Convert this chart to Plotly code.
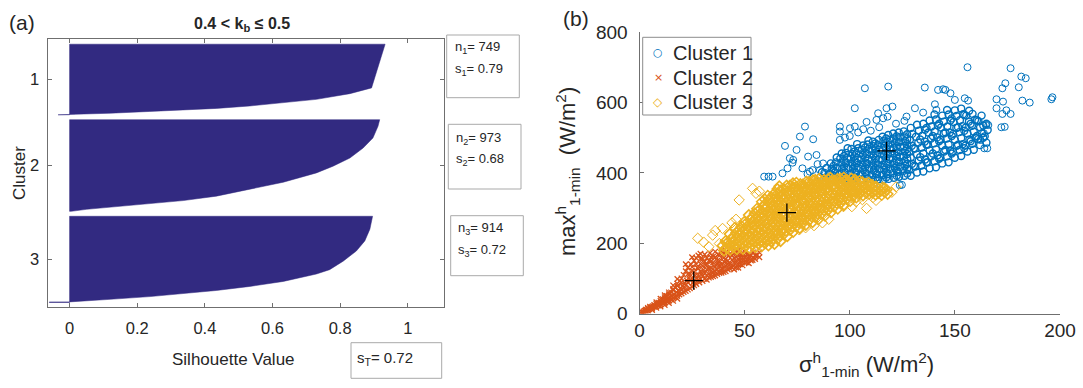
import plotly.graph_objects as go

W, H = 1083, 388

# ---------------- panel (a): silhouette profiles ----------------
cluster_sizes = [749, 973, 914]
cluster_means = [0.79, 0.68, 0.72]
overall_mean = 0.72
gap = 52  # blank rows between clusters

# rank inside each cluster (sorted by silhouette value) and the value at that rank
sil_rank_1 = [1, 464, 525, 586, 624, 656, 682, 694, 714, 733, 744, 746, 749]
sil_val_1 = [0.933, 0.893, 0.829, 0.73, 0.63, 0.533, 0.434, 0.336, 0.237, 0.12, 0.02, -0.034, -0.034]

sil_rank_2 = [1, 71, 195, 301, 407, 494, 565, 664, 742, 812, 859, 890, 925, 952, 973]
sil_val_2 = [0.917, 0.912, 0.897, 0.868, 0.829, 0.779, 0.73, 0.632, 0.533, 0.434, 0.336, 0.238, 0.13, 0.05, 0.005]

sil_rank_3 = [1, 137, 262, 369, 477, 567, 613, 692, 745, 788, 821, 853, 882, 903, 909, 910, 914]
sil_val_3 = [0.896, 0.888, 0.873, 0.848, 0.809, 0.769, 0.73, 0.632, 0.533, 0.434, 0.336, 0.238, 0.12, 0.03, 0.0, -0.06, -0.06]

x_ticks_a = [0, 0.2, 0.4, 0.6, 0.8, 1]
x_ticktext_a = ["0", "0.2", "0.4", "0.6", "0.8", "1"]
cluster_labels = ["1", "2", "3"]

# ---------------- panel (b): scatter of the three clusters ----------------
legend_names = ["Cluster 1", "Cluster 2", "Cluster 3"]

c1_core_pts = [
    (86, 388), (86.8, 402),
    (88.5, 386), (88, 400), (89, 414),
    (91, 385), (90.6, 398), (91.4, 412), (91, 427),
    (92.3, 392), (92.3, 406), (92.3, 420),
    (93.5, 387), (93, 401), (94, 415), (93.4, 430), (93.8, 444),
    (96, 384), (95.6, 398), (96.4, 412), (96, 427), (95.5, 441), (96.2, 455),
    (97.3, 391), (97.3, 405), (97.3, 419), (97.3, 434), (97.3, 448),
    (98.5, 386), (98, 400), (99, 414), (98.4, 429), (98.8, 443), (98.2, 457), (99, 470),
    (101, 383), (100.6, 397), (101.4, 411), (101, 426), (100.5, 440), (101.2, 454), (100.8, 468),
    (102.3, 390), (102.3, 404), (102.3, 419), (102.3, 433), (102.3, 447), (102.3, 461),
    (103.5, 386), (103, 400), (104, 414), (103.4, 428), (103.8, 442), (103.2, 456), (104, 470), (103.5, 482),
    (106, 381), (105.6, 395), (106.4, 409), (106, 423), (105.5, 437), (106.2, 451), (105.8, 465), (106.4, 478),
    (107.3, 388), (107.3, 402), (107.3, 416), (107.3, 430), (107.3, 444), (107.3, 458), (107.3, 472),
    (108.5, 384), (108, 398), (109, 412), (108.4, 426), (108.8, 440), (108.2, 454), (109, 468), (108.5, 481), (108.9, 492),
    (111, 379), (110.6, 393), (111.4, 407), (111, 421), (110.5, 435), (111.2, 449), (110.8, 463), (111.4, 476), (111, 489),
    (112.3, 386), (112.3, 400), (112.3, 414), (112.3, 428), (112.3, 442), (112.3, 456), (112.3, 470), (112.3, 484),
    (113.5, 382), (113, 396), (114, 410), (113.4, 424), (113.8, 438), (113.2, 452), (114, 466), (113.5, 479), (113.8, 494),
    (116, 380), (115.6, 394), (116.4, 408), (116, 422), (115.5, 436), (116.2, 450), (115.8, 464), (116.4, 477), (116, 490), (115.6, 503),
    (117.3, 387), (117.3, 401), (117.3, 415), (117.3, 429), (117.3, 443), (117.3, 457), (117.3, 471), (117.3, 485), (117.3, 498),
    (118.5, 383), (118, 397), (119, 411), (118.4, 425), (118.8, 439), (118.2, 453), (119, 467), (118.5, 480), (118.9, 494), (118.3, 508),
    (121, 386), (120.6, 400), (121.4, 414), (121, 428), (120.5, 442), (121.2, 456), (120.8, 470), (121.4, 484), (121, 498), (120.7, 512),
    (122.3, 392), (122.3, 406), (122.3, 420), (122.3, 434), (122.3, 448), (122.3, 462), (122.3, 476), (122.3, 490), (122.3, 504),
    (123.5, 389), (123, 403), (124, 417), (123.4, 431), (123.8, 445), (123.2, 459), (124, 473), (123.5, 487), (123.8, 501), (123.3, 515),
    (126, 392), (125.6, 406), (126.4, 420), (126, 434), (125.5, 448), (126.2, 462), (125.8, 476), (126.4, 490), (126, 504), (125.7, 518),
    (127.3, 398), (127.3, 412), (127.3, 426), (127.3, 440), (127.3, 454), (127.3, 468), (127.3, 482), (127.3, 496), (127.3, 510),
    # upper band
    (129, 392), (128.2, 409), (129.6, 426), (129, 443), (128.3, 460), (129.5, 477), (128.6, 494), (129.7, 511), (129, 528),
    (132, 401), (131.2, 418), (132.8, 435), (132, 452), (131.1, 469), (132.6, 486), (131.5, 503), (132.9, 520), (132, 537),
    (135, 404), (134.1, 421), (135.9, 438), (135, 455), (134.2, 472), (135.7, 489), (134.5, 506), (135.8, 523), (135, 540),
    (138, 413), (137.1, 430), (138.8, 447), (138, 464), (137.2, 481), (138.7, 498), (137.4, 515), (138.9, 532), (138, 549),
    (141, 416), (140.2, 433), (141.8, 450), (141, 467), (140.1, 484), (141.6, 501), (140.4, 518), (141.9, 535), (141, 552), (140.3, 566),
    (144, 427), (143.1, 444), (144.9, 461), (144, 478), (143.2, 495), (144.7, 512), (143.4, 529), (144.8, 546), (144, 563),
    (147, 430), (146.2, 447), (147.8, 464), (147, 481), (146.1, 498), (147.6, 515), (146.4, 532), (147.9, 549), (147, 566), (146.3, 579),
    (150, 443), (149.1, 460), (150.9, 477), (150, 494), (149.2, 511), (150.7, 528), (149.4, 545), (150.8, 562), (150, 578),
    (153, 448), (152.2, 465), (153.8, 482), (153, 499), (152.1, 516), (153.6, 533), (152.4, 550), (153.9, 567), (153, 583),
    (156, 461), (155.1, 478), (156.9, 495), (156, 512), (155.2, 529), (156.7, 546), (155.4, 563), (156.8, 577),
    (159, 466), (158.2, 483), (159.8, 500), (159, 517), (158.1, 534), (159.6, 551), (158.4, 568),
    (162, 479), (161.1, 496), (162.9, 513), (162, 530), (161.2, 547), (162.7, 563),
    (165, 486), (164.2, 504), (165.6, 522), (165, 540),
    (130.5, 420), (130.5, 470), (133.5, 445), (133.5, 495), (136.5, 430), (136.5, 480), (136.5, 528),
    (139.5, 455), (139.5, 505), (142.5, 440), (142.5, 490), (142.5, 540), (145.5, 465), (145.5, 515),
    (148.5, 455), (148.5, 505), (148.5, 555), (151.5, 480), (151.5, 530), (154.5, 470), (154.5, 520),
    (154.5, 565), (157.5, 490), (157.5, 540), (160.5, 505), (160.5, 550), (163.5, 500), (163.5, 535),
]

c1_outer_pts = [
    (156.0, 700.6), (176.5, 697.8), (181.6, 674), (183.7, 669.3), (196.4, 615.2), (195.9, 609.5),
    (185.6, 600), (182.1, 605.7), (180.4, 643.6), (174.0, 655), (172.6, 640.8), (172.9, 602.8),
    (169.8, 609.5), (169.8, 583.9), (172.6, 567.7), (176.5, 567.7), (172.1, 529.8), (164.0, 470),
    (163.8, 512.7), (164.7, 536.4), (162.2, 493.6), (154.7, 612.3), (156.3, 605.7), (150.0, 607.6),
    (147.9, 626.6), (145.5, 636.1), (144.4, 638), (142.0, 636.1), (135.7, 642.8), (140.5, 595.3),
    (141.2, 579.2), (131.0, 584), (134.9, 571.6), (127.0, 560.2), (118.3, 645.6), (120.3, 588.7),
    (117.5, 584), (113.5, 569.7), (112.7, 550.7), (115.9, 555.5), (107.2, 640.8), (102.4, 584),
    (95.3, 531.8), (95.3, 517.6), (95.3, 493.9), (97.7, 500.5), (100.1, 527), (102.4, 531.8),
    (106.4, 524.2), (78.7, 531.8), (76.3, 503.3), (82.6, 495.7), (69.2, 476.8), (74.7, 465.4),
    (73.1, 437), (71.5, 441.7), (80.2, 446.4), (84.2, 451), (87.3, 427), (85.8, 408), (81.0, 403.4),
    (59.3, 389.4), (61.4, 389.4), (63.3, 389.4), (68.0, 398.9), (70.4, 413), (72.8, 429),
    (77.5, 413), (79.9, 397), (82.3, 408), (84.7, 425), (114.3, 370), (123.8, 365), (124.8, 366),
    (100, 505), (104, 515), (110, 520), (114, 530), (122, 540), (126, 548), (108, 545), (118, 560),
    (165.9, 536), (165.4, 470), (173.7, 531), (174.5, 578),
]

c2_pts = [
    (0.5, 1), (1, 4), (1.5, 3), (2, 6), (2.5, 8), (3, 7), (3, 11), (3.5, 10), (4, 13), (4.5, 12),
    (5, 15), (5, 19), (5.5, 17), (6, 14), (6.5, 21), (7, 19), (7, 24), (7.5, 22), (8, 20), (8, 27),
    (8.5, 25), (9, 23), (9, 31), (9.5, 28), (10, 26), (10, 36), (10.5, 32), (11, 29), (11, 41), (11.5, 36),
    (12, 31), (12, 46), (12.5, 39), (13, 34), (13, 50), (13.5, 43), (14, 37), (14, 55), (14.5, 46), (15, 40),
    (15, 60), (15.5, 50), (16, 44), (16, 66), (16.5, 55), (17, 47), (17, 74), (17.5, 60), (18, 50), (18, 85),
    (18.5, 66), (19, 54), (19, 92), (19.5, 72), (20, 57), (20, 100), (20.5, 78), (21, 61), (21, 110), (21.5, 86),
    (22, 64), (22, 120), (22.5, 94), (23, 68), (23, 130), (23.5, 102), (24, 72), (24, 112), (24.5, 140), (25, 76),
    (25, 122), (25.5, 88), (26, 150), (26, 80), (26.5, 108), (27, 158), (27, 84), (27.5, 130), (28, 96), (28, 165),
    (28.5, 88), (29, 142), (29.5, 112), (30, 92), (30, 155), (30.5, 124), (31, 168), (31, 98), (31.5, 138), (32, 110),
    (32, 158), (33, 102), (33, 128), (33.5, 172), (34, 148), (34.5, 116), (35, 106), (35, 162), (35.5, 134), (36, 176),
    (36, 120), (37, 112), (37, 150), (37.5, 168), (38, 138), (38.5, 124), (39, 180), (39, 116), (40, 158), (40, 132),
    (40.5, 146), (41, 120), (41, 174), (42, 140), (42.5, 164), (43, 128), (43, 184), (44, 152), (44.5, 135), (45, 172),
    (45, 145), (46, 131), (46, 160), (47, 180), (47, 140), (48, 150), (48, 168), (49, 137), (49, 160), (50, 146),
    (50, 176), (51, 155), (52, 143), (52, 168), (53, 151), (54, 160), (54, 174), (55, 155), (56, 166), (57, 160),
    (57, 174), (53.8, 152), (22, 140), (25, 160), (29, 170), (18, 98), (16, 80),
    (19, 62), (20, 68), (21, 74), (22, 80), (23, 88), (23, 112), (24, 95), (25, 100), (25, 132), (26, 92),
    (26, 118), (27, 100), (27, 140), (28, 110), (28, 128), (29, 98), (29, 120), (29, 155), (30, 106), (30, 135),
    (31, 115), (31, 148), (32, 96), (32, 125), (32, 140), (33, 112), (33, 150), (34, 104), (34, 130), (34, 160),
    (35, 118), (35, 145), (36, 108), (36, 132), (36, 160), (37, 125), (37, 140), (38, 115), (38, 150), (38, 165),
    (39, 128), (39, 140), (40, 118), (40, 170), (41, 135), (41, 155), (42, 125), (42, 150), (43, 140), (43, 170),
    (44, 130), (44, 165), (45, 125), (45, 158), (46, 145), (46, 175), (47, 130), (47, 155), (48, 140), (48, 160),
    (49, 150), (49, 172), (50, 160), (51, 145), (51, 168), (52, 155), (53, 165), (55, 165),
    (2, 2), (4, 8), (6, 10), (8, 16), (10, 20), (12, 24), (14, 30), (16, 36), (18, 42),
    (4, 16), (6, 19), (8, 32), (10, 42), (12, 52), (14, 60), (16, 70), (18, 78), (20, 88),
]

c3_core_pts = [
    (40.2, 179), (39.5, 193), (41.0, 206),
    (41.6, 186), (41.6, 200),
    (43.1, 181), (42.6, 196), (43.8, 211), (42.9, 226),
    (44.6, 189), (44.6, 204), (44.6, 219),
    (46.3, 183), (45.7, 198), (46.8, 214), (46.0, 230), (45.4, 244),
    (47.6, 191), (47.6, 206), (47.6, 222), (47.6, 238),
    (49.2, 184), (48.8, 200), (49.7, 216), (49.0, 232), (48.5, 248), (49.9, 261),
    (50.6, 193), (50.6, 209), (50.6, 225), (50.6, 241), (50.6, 256),
    (52.3, 186), (51.8, 202), (52.6, 218), (52.1, 234), (51.5, 250), (52.8, 266), (52.0, 280),
    (53.6, 196), (53.6, 212), (53.6, 228), (53.6, 244), (53.6, 260), (53.6, 274),
    (55.2, 189), (54.6, 205), (55.7, 221), (55.0, 237), (54.4, 253), (55.5, 269), (54.8, 285), (55.9, 298),
    (56.6, 198), (56.6, 214), (56.6, 230), (56.6, 246), (56.6, 262), (56.6, 278), (56.6, 292),
    (58.1, 191), (57.6, 207), (58.6, 223), (58.0, 239), (57.3, 255), (58.4, 271), (57.9, 287), (58.8, 303), (58.2, 318),
    (59.6, 200), (59.6, 216), (59.6, 232), (59.6, 248), (59.6, 264), (59.6, 280), (59.6, 296), (59.6, 311), (59.6, 325),
    (61.3, 194), (60.8, 210), (61.6, 226), (61.0, 242), (60.5, 258), (61.8, 274), (61.2, 290), (60.7, 306), (61.5, 322), (61.0, 335),
    (62.6, 204), (62.6, 220), (62.6, 236), (62.6, 252), (62.6, 268), (62.6, 284), (62.6, 300), (62.6, 316), (62.6, 331),
    (64.2, 198), (63.7, 214), (64.6, 230), (64.0, 246), (63.5, 262), (64.8, 278), (64.3, 294), (63.8, 310), (64.5, 326), (64.1, 341),
    (65.6, 212), (65.6, 228), (65.6, 244), (65.6, 260), (65.6, 276), (65.6, 292), (65.6, 308), (65.6, 324), (65.6, 340), (65.6, 354),
    (67.1, 206), (66.6, 222), (67.5, 238), (67.0, 254), (66.4, 270), (67.7, 286), (67.2, 302), (66.7, 318), (67.4, 334), (67.0, 350), (66.5, 362),
    (68.6, 226), (68.6, 242), (68.6, 258), (68.6, 274), (68.6, 290), (68.6, 306), (68.6, 322), (68.6, 338), (68.6, 354),
    (70.3, 220), (69.7, 236), (70.6, 252), (70.0, 268), (69.5, 284), (70.8, 300), (70.2, 316), (69.8, 332), (70.5, 348), (70.0, 364),
    (71.6, 238), (71.6, 254), (71.6, 270), (71.6, 286), (71.6, 302), (71.6, 318), (71.6, 334), (71.6, 350), (71.6, 364),
    (73.1, 232), (72.6, 248), (73.5, 264), (73.0, 280), (72.4, 296), (73.7, 312), (73.2, 328), (72.7, 344), (73.4, 358), (73.0, 370),
    (74.6, 248), (74.6, 264), (74.6, 280), (74.6, 296), (74.6, 312), (74.6, 328), (74.6, 344), (74.6, 360), (74.6, 372),
    (76.2, 243), (75.7, 259), (76.6, 275), (76.0, 291), (75.5, 307), (76.8, 323), (76.3, 339), (75.8, 354), (76.5, 368),
    (77.6, 257), (77.6, 273), (77.6, 289), (77.6, 305), (77.6, 321), (77.6, 337), (77.6, 353), (77.6, 367),
    (79.1, 252), (78.6, 268), (79.5, 284), (79.0, 300), (78.4, 316), (79.7, 332), (79.2, 348), (78.7, 362), (79.4, 375),
    (80.6, 265), (80.6, 281), (80.6, 297), (80.6, 313), (80.6, 329), (80.6, 345), (80.6, 360), (80.6, 374),
    (82.3, 260), (81.8, 276), (82.6, 292), (82.0, 308), (81.5, 324), (82.8, 340), (82.2, 356), (81.7, 369), (82.5, 379),
    (83.6, 274), (83.6, 290), (83.6, 306), (83.6, 322), (83.6, 338), (83.6, 354), (83.6, 368), (83.6, 380),
    (85.1, 268), (84.6, 284), (85.5, 300), (85.0, 316), (84.4, 332), (85.7, 348), (85.2, 362), (84.7, 374), (85.4, 383),
    (86.6, 284), (86.6, 300), (86.6, 316), (86.6, 332), (86.6, 348), (86.6, 362), (86.6, 375),
    (88.2, 278), (87.7, 294), (88.6, 310), (88.0, 326), (87.5, 342), (88.8, 356), (88.3, 368), (87.8, 380),
    (89.6, 294), (89.6, 310), (89.6, 326), (89.6, 342), (89.6, 356), (89.6, 370), (89.6, 382),
    (91.1, 288), (90.6, 304), (91.5, 320), (91.0, 336), (90.4, 350), (91.7, 364), (91.2, 376), (90.8, 386),
    (92.6, 304), (92.6, 320), (92.6, 336), (92.6, 352), (92.6, 366), (92.6, 378),
    (94.3, 298), (93.8, 314), (94.6, 330), (94.0, 346), (93.5, 360), (94.8, 372), (94.2, 383),
    (95.6, 314), (95.6, 330), (95.6, 346), (95.6, 360), (95.6, 373), (95.6, 384),
    (97.1, 308), (96.6, 324), (97.5, 340), (97.0, 354), (96.4, 367), (97.7, 378), (97.2, 387),
    (98.6, 326), (98.6, 342), (98.6, 356), (98.6, 369), (98.6, 380),
    (100.2, 320), (99.7, 336), (100.6, 350), (100.0, 363), (99.5, 375), (100.8, 384),
    (101.6, 334), (101.6, 348), (101.6, 362), (101.6, 374),
    (103.1, 330), (102.6, 345), (103.5, 358), (103.0, 370), (102.4, 381),
    (104.6, 340), (104.6, 354), (104.6, 366), (104.6, 377),
    (106.3, 336), (105.8, 350), (106.6, 362), (106.0, 374),
    (107.6, 344), (107.6, 357), (107.6, 369),
    (109.2, 340), (108.7, 352), (109.5, 364), (109.0, 372),
    (110.6, 344), (110.6, 356), (110.6, 366),
    (112.3, 338), (111.8, 350), (112.5, 361),
    (113.6, 343), (113.6, 355),
    (115.2, 337), (114.7, 349), (115.6, 358),
    (116.6, 345), (116.6, 356),
    (118.0, 340), (117.5, 352),
]

c3_outer_pts = [
    (27.7, 214), (30.5, 203), (33.0, 190), (34.8, 223), (36.0, 236), (38.0, 199), (39.5, 242),
    (44.0, 258), (45.9, 268), (47.4, 323), (53.8, 356), (55.4, 342), (57.0, 348), (76, 238),
    (79, 244), (83, 250), (87, 258), (90, 268), (97, 304), (101, 304), (108, 299), (111, 330),
    (112.5, 322), (120, 345), (122, 360), (103, 318), (106, 324),
]

centroid_x = [117.5, 25.8, 70.1]
centroid_y = [462.4, 93.3, 286.9]

x_ticks_b = [0, 50, 100, 150, 200]
y_ticks_b = [0, 200, 400, 600, 800]

# ---------------- styling ----------------
FONT = "Liberation Sans, Arial, Helvetica, sans-serif"
TXT = "#262626"
AXC = "#6f6f6f"
BOXC = "#a9a9a9"
BAR = "#322a81"
COLORS = ["#0072BD", "#D95319", "#EDB120"]
LEGEND_GLYPHS = ["○", "×", "◇"]


def fx(p):
    return p / W


def fy(p):
    return 1 - p / H


fig = go.Figure()

# silhouette bars, one filled outline per cluster
starts = []
s = 0
for n in cluster_sizes:
    starts.append(s)
    s += n + gap
profiles = [(sil_rank_1, sil_val_1), (sil_rank_2, sil_val_2), (sil_rank_3, sil_val_3)]
for start, n, (ranks, vals) in zip(starts, cluster_sizes, profiles):
    top = start + 0.5
    bottom = start + n + 0.5
    xs = [0, vals[0]]
    ys = [top, top]
    for r, v in zip(ranks, vals):
        xs.append(v)
        ys.append(start + r)
    xs += [vals[-1], 0, 0]
    ys += [bottom, bottom, top]
    fig.add_trace(go.Scatter(x=xs, y=ys, mode="lines", fill="toself", fillcolor=BAR,
                             line=dict(color=BAR, width=0.5), hoverinfo="skip",
                             showlegend=False, xaxis="x", yaxis="y"))

tick_pos = [st + (n + 1) / 2 for st, n in zip(starts, cluster_sizes)]
y_last = starts[-1] + cluster_sizes[-1] + 0.5

# scatter of the three clusters (dense cores use a slightly heavier outline)
symbols = ["circle-open", "x-thin-open", "diamond-open"]
sizes = [7, 5.5, 8]
groups = [(c1_core_pts, c1_outer_pts), (c2_pts, []), (c3_core_pts, c3_outer_pts)]
core_width = [1.4, 1.3, 1.6]
for i, (core, outer) in enumerate(groups):
    for pts, lw in [(core, core_width[i]), (outer, 1)]:
        if not pts:
            continue
        fig.add_trace(go.Scatter(
            x=[p[0] for p in pts], y=[p[1] for p in pts], mode="markers",
            name=legend_names[i], legendgroup=f"c{i}", showlegend=False,
            marker=dict(symbol=symbols[i], size=sizes[i], color=COLORS[i],
                        line=dict(color=COLORS[i], width=lw)),
            xaxis="x2", yaxis="y2"))

fig.add_trace(go.Scatter(x=centroid_x, y=centroid_y, mode="markers", showlegend=False,
                         marker=dict(symbol="cross-thin-open", size=13, color="black",
                                     line=dict(color="black", width=1.3)),
                         xaxis="x2", yaxis="y2"))

axis_common = dict(showgrid=False, zeroline=False, showline=True, linecolor=AXC, linewidth=1,
                   ticks="inside", tickcolor=AXC, ticklen=4, automargin=False)

fig.update_layout(
    width=W, height=H, margin=dict(l=0, r=0, t=0, b=0, autoexpand=False),
    paper_bgcolor="white", plot_bgcolor="white", showlegend=False,
    font=dict(family=FONT, color=TXT),
    xaxis=dict(domain=[fx(47.6), fx(443.6)], range=[-0.065, 1.106], anchor="y",
               tickvals=x_ticks_a, ticktext=x_ticktext_a, mirror="ticks",
               ticklabelstandoff=6, tickfont=dict(family=FONT, color=TXT, size=16.5), **axis_common),
    yaxis=dict(domain=[fy(307.3), fy(39.3)], range=[y_last + gap, 0.5 - gap], anchor="x",
               tickvals=tick_pos, ticktext=cluster_labels, mirror="ticks",
               ticklabelstandoff=4, tickfont=dict(family=FONT, color=TXT, size=16.5), **axis_common),
    xaxis2=dict(domain=[fx(639.5), fx(1060)], range=[0, 200], anchor="y2",
                tickvals=x_ticks_b, ticklabelstandoff=0,
                tickfont=dict(family=FONT, color=TXT, size=19), **axis_common),
    yaxis2=dict(domain=[fy(313.5), fy(32.3)], range=[0, 800], anchor="x2",
                tickvals=y_ticks_b, ticklabelstandoff=7,
                tickfont=dict(family=FONT, color=TXT, size=19), **axis_common),
)

annotations = [
    dict(text="(a)", x=fx(22), y=fy(22), size=21),
    dict(text="(b)", x=fx(576), y=fy(18), size=21),
    dict(text="<b>0.4 &lt; k<sub>b</sub> ≤ 0.5</b>", x=fx(242), y=fy(25), size=16),
    dict(text="Cluster", x=fx(19), y=fy(173), size=17, angle=-90),
    dict(text="Silhouette Value", x=fx(233), y=fy(359), size=17),
    dict(text="max<sup>h</sup><sub>1-min</sub>  (W/m<sup>2</sup>)", x=fx(567), y=fy(172), size=22, angle=-90),
    dict(text="σ<sup>h</sup><sub>1-min</sub> (W/m<sup>2</sup>)", x=fx(866), y=fy(364), size=22),
]
for a in annotations:
    fig.add_annotation(text=a["text"], x=a["x"], y=a["y"], xref="paper", yref="paper",
                       xanchor="center", yanchor="middle", showarrow=False,
                       textangle=a.get("angle", 0),
                       font=dict(family=FONT, size=a["size"], color=TXT))

# legend box of panel (b)
fig.add_shape(type="rect", xref="paper", yref="paper", x0=fx(642.7), x1=fx(751), y0=fy(115), y1=fy(37.3),
              line=dict(color="#8c8c8c", width=1), fillcolor="white")
legend_rows = [52.7, 78.0, 101.7]
glyph_sizes = [11, 11, 12]
for i, ry in enumerate(legend_rows):
    fig.add_annotation(text=LEGEND_GLYPHS[i], x=fx(658.3), y=fy(ry), xref="paper", yref="paper",
                       xanchor="center", yanchor="middle", showarrow=False,
                       font=dict(family="DejaVu Sans", size=glyph_sizes[i], color=COLORS[i]))
    fig.add_annotation(text=legend_names[i], x=fx(671), y=fy(ry), xref="paper", yref="paper",
                       xanchor="left", yanchor="middle", showarrow=False,
                       font=dict(family=FONT, size=20, color=TXT))

# boxes with cluster counts and mean silhouette values
boxes = [(446.7, 35, 519.3, 97.7), (448.3, 124.3, 521, 189), (450.7, 215.7, 523.3, 275.7)]
text_rows = [(452.5, 47.5, 69.5), (453.5, 138.3, 159.5), (456, 228.3, 250)]
for i, ((x0, y0, x1, y1), (tx, ty1, ty2)) in enumerate(zip(boxes, text_rows)):
    fig.add_shape(type="rect", xref="paper", yref="paper", x0=fx(x0), x1=fx(x1), y0=fy(y1), y1=fy(y0),
                  line=dict(color=BOXC, width=1), fillcolor="white")
    for txt, ty in [(f"n<sub>{i + 1}</sub>= {cluster_sizes[i]}", ty1),
                    (f"s<sub>{i + 1}</sub>= {cluster_means[i]:.2f}", ty2)]:
        fig.add_annotation(text=txt, x=fx(tx), y=fy(ty), xref="paper", yref="paper",
                           xanchor="left", yanchor="middle", showarrow=False,
                           font=dict(family=FONT, size=13, color=TXT))

fig.add_shape(type="rect", xref="paper", yref="paper", x0=fx(351), x1=fx(441.7), y0=fy(378.3), y1=fy(342.7),
              line=dict(color=BOXC, width=1), fillcolor="white")
fig.add_annotation(text=f"s<sub>T</sub>= {overall_mean:.2f}", x=fx(355), y=fy(358), xref="paper", yref="paper",
                   xanchor="left", yanchor="middle", showarrow=False,
                   font=dict(family=FONT, size=15, color=TXT))

fig.write_html("out.html")
